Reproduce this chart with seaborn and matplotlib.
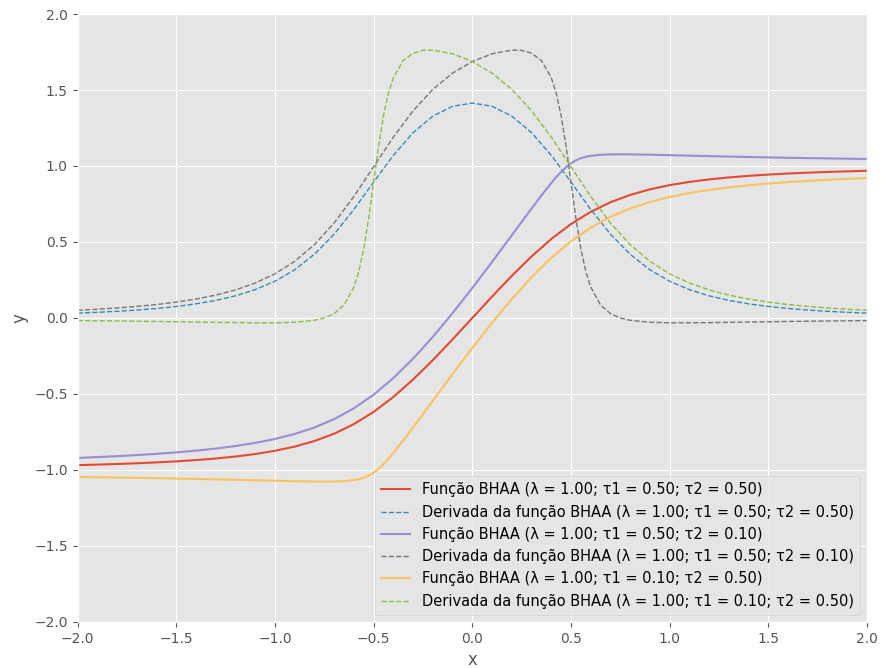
import numpy as np
import pandas as pd
import matplotlib
matplotlib.use('Agg')
import matplotlib.pyplot as plt
import seaborn as sns

# Data
x_a = [-2.0, -1.9, -1.8, -1.7, -1.6, -1.5, -1.4, -1.3, -1.2, -1.1, -1.0, -0.9, -0.8, -0.7, -0.6, -0.5, -0.4, -0.3, -0.2, -0.1,
       0.0, 0.1, 0.2, 0.3, 0.4, 0.5, 0.6, 0.7, 0.8, 0.9, 1.0, 1.1, 1.2, 1.3, 1.4, 1.5, 1.6, 1.7, 1.8, 1.9, 2.0]
f_a = [-0.9684, -0.9649, -0.9609, -0.9561, -0.9504, -0.9436, -0.9351, -0.9248, -0.9118, -0.8953, -0.8740, -0.8463, -0.8097,
       -0.7615, -0.6984, -0.6180, -0.5197, -0.4049, -0.2771, -0.1407,
       0.0, 0.1407, 0.2771, 0.4049, 0.5197, 0.6180, 0.6984, 0.7615, 0.8097, 0.8463, 0.8740, 0.8953, 0.9118, 0.9248, 0.9351,
       0.9436, 0.9504, 0.9561, 0.9609, 0.9649, 0.9684]
d_a = [0.0319, 0.0373, 0.0438, 0.0520, 0.0624, 0.0757, 0.0930, 0.1155, 0.1457, 0.1863, 0.2416, 0.3170, 0.4189, 0.5517,
       0.7143, 0.8944, 1.0702, 1.2194, 1.3282, 1.3929,
       1.4142, 1.3929, 1.3282, 1.2194, 1.0702, 0.8944, 0.7143, 0.5517, 0.4189, 0.3170, 0.2416, 0.1863, 0.1457, 0.1155,
       0.0930, 0.0757, 0.0624, 0.0520, 0.0438, 0.0373, 0.0319]

x_b = [-2.0, -1.9, -1.8, -1.7, -1.6, -1.5, -1.4, -1.3, -1.2, -1.1, -1.0, -0.9, -0.8, -0.7, -0.6, -0.5, -0.4, -0.3, -0.2, -0.1,
       0.0, 0.1, 0.2, 0.25, 0.3, 0.35, 0.4, 0.425, 0.45, 0.475, 0.5, 0.525, 0.55, 0.575, 0.6, 0.65, 0.7, 0.75, 0.8, 0.9,
       1.0, 1.1, 1.2, 1.3, 1.4, 1.5, 1.6, 1.7, 1.8, 1.9, 2.0]
f_b = [-0.9209, -0.9155, -0.9094, -0.9023, -0.8941, -0.8845, -0.8730, -0.8594, -0.8427, -0.8221, -0.7962, -0.7633, -0.7207,
       -0.6657, -0.5946, -0.5050, -0.3956, -0.2677, -0.1240, 0.0320,
       0.1972, 0.3687, 0.5440, 0.6321, 0.7198, 0.8059, 0.8882, 0.9265, 0.9617, 0.9926, 1.0180, 1.0374, 1.0512, 1.0606,
       1.0669, 1.0737, 1.0764, 1.0770, 1.0766, 1.0743,
       1.0712, 1.0680, 1.0649, 1.0620, 1.0592, 1.0566, 1.0542, 1.0519, 1.0499, 1.0479, 1.0462]
d_b = [0.0505, 0.0575, 0.0657, 0.0759, 0.0885, 0.1044, 0.1245, 0.1505, 0.1846, 0.2299, 0.2907, 0.3728, 0.4826, 0.6251,
       0.7998, 0.9950, 1.1900, 1.3637, 1.5044, 1.6111,
       1.6877, 1.7383, 1.7624, 1.7606, 1.7424, 1.6940, 1.5812, 1.4797, 1.3321, 1.1323, 0.8944, 0.6562, 0.4557, 0.3067,
       0.2033, 0.0850, 0.0287, 0.0000, -0.0153, -0.0284,
       -0.0319, -0.0319, -0.0305, -0.0288, -0.0268, -0.0249, -0.0231, -0.0214, -0.0199, -0.0185, -0.0172]

x_c = [-2.0, -1.9, -1.8, -1.7, -1.6, -1.5, -1.4, -1.3, -1.2, -1.1, -1.0, -0.9, -0.8, -0.75, -0.7, -0.65, -0.6, -0.575,
       -0.55, -0.525, -0.5, -0.475, -0.45, -0.425, -0.4, -0.35, -0.3, -0.25, -0.2, -0.1,
       0.0, 0.1, 0.2, 0.3, 0.4, 0.5, 0.6, 0.7, 0.8, 0.9, 1.0, 1.1, 1.2, 1.3, 1.4, 1.5, 1.6, 1.7, 1.8, 1.9, 2.0]
f_c = [-1.0462, -1.0479, -1.0499, -1.0519, -1.0542, -1.0566, -1.0592, -1.0620, -1.0649, -1.0680, -1.0712, -1.0743, -1.0766,
       -1.0770, -1.0764, -1.0737, -1.0669, -1.0606, -1.0512, -1.0374, -1.0180, -0.9926, -0.9617, -0.9265, -0.8882,
       -0.8059, -0.7198, -0.6321, -0.5440, -0.3687,
       -0.1972, -0.0320, 0.1240, 0.2677, 0.3956, 0.5050, 0.5946, 0.6657, 0.7207, 0.7633, 0.7962, 0.8221, 0.8427, 0.8594,
       0.8730, 0.8845, 0.8941, 0.9023, 0.9094, 0.9155, 0.9209]
d_c = [-0.0172, -0.0185, -0.0199, -0.0214, -0.0231, -0.0249, -0.0268, -0.0288, -0.0305, -0.0319, -0.0319, -0.0284, -0.0153,
       0.0000, 0.0287, 0.0850, 0.2033, 0.3067, 0.4557, 0.6562, 0.8944, 1.1323, 1.3321, 1.4797, 1.5812,
       1.6940, 1.7424, 1.7606, 1.7624, 1.7383,
       1.6877, 1.6111, 1.5044, 1.3637, 1.1900, 0.9950, 0.7998, 0.6251, 0.4826, 0.3728, 0.2907, 0.2299, 0.1846, 0.1505,
       0.1245, 0.1044, 0.0885, 0.0759, 0.0657, 0.0575, 0.0505]

labels = [
    'Função BHAA (λ = 1.00; τ1 = 0.50; τ2 = 0.50)',
    'Derivada da função BHAA (λ = 1.00; τ1 = 0.50; τ2 = 0.50)',
    'Função BHAA (λ = 1.00; τ1 = 0.50; τ2 = 0.10)',
    'Derivada da função BHAA (λ = 1.00; τ1 = 0.50; τ2 = 0.10)',
    'Função BHAA (λ = 1.00; τ1 = 0.10; τ2 = 0.50)',
    'Derivada da função BHAA (λ = 1.00; τ1 = 0.10; τ2 = 0.50)',
]

plt.style.use('ggplot')
fig, ax = plt.subplots(figsize=(8.82, 6.68), dpi=100)
fig.subplots_adjust(left=0.088, right=0.983, top=0.979, bottom=0.069)

series = [(x_a, f_a, '#E24A33', '-'), (x_a, d_a, '#348ABD', '--'),
          (x_b, f_b, '#988ED5', '-'), (x_b, d_b, '#777777', '--'),
          (x_c, f_c, '#FBC15E', '-'), (x_c, d_c, '#8EBA42', '--')]
for (xs, ys, col, ls), lab in zip(series, labels):
    df = pd.DataFrame({'x': xs, 'y': ys})
    sns.lineplot(data=df, x='x', y='y', color=col, linestyle=ls, linewidth=1.5 if ls == '-' else 1.0,
                 label=lab, ax=ax, sort=False)

ax.set_xlim(-2, 2)
ax.set_ylim(-2, 2)
ax.set_xticks(np.arange(-2, 2.01, 0.5))
ax.set_yticks(np.arange(-2, 2.01, 0.5))
ax.set_xlabel('x')
ax.set_ylabel('y')
ax.legend(loc='lower right', fontsize=10.5)

fig.savefig('out.png', dpi=100)
